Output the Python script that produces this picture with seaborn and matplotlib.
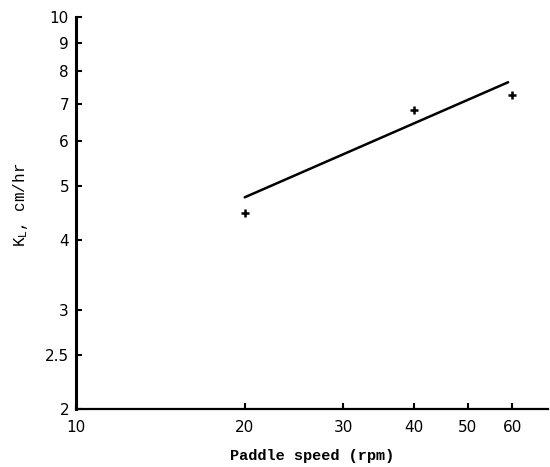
import matplotlib
matplotlib.use("Agg")
import matplotlib.pyplot as plt
import seaborn as sns
import pandas as pd
from matplotlib.ticker import FixedLocator, FixedFormatter, NullLocator

# data
paddle_speed = [20, 40, 60]
kl_measured = [4.48, 6.82, 7.25]
fit_speed = [20, 59]
fit_kl = [4.77, 7.65]
x_ticks = [10, 20, 30, 40, 50, 60]
x_tick_labels = ["10", "20", "30", "40", "50", "60"]
y_ticks = [2, 2.5, 3, 4, 5, 6, 7, 8, 9, 10]
y_tick_labels = ["2", "2.5", "3", "4", "5", "6", "7", "8", "9", "10"]

sns.set_style("ticks")
plt.rcParams["font.family"] = ["DejaVu Sans"]
plt.rcParams["text.color"] = "black"
plt.rcParams["axes.labelcolor"] = "black"

fig = plt.figure(figsize=(5.5, 4.67), dpi=100)
ax = fig.add_axes([76/550, 58/467, 472/550, 392/467])

pts = pd.DataFrame({"speed": paddle_speed, "kl": kl_measured})
fit = pd.DataFrame({"speed": fit_speed, "kl": fit_kl})

sns.lineplot(data=fit, x="speed", y="kl", ax=ax, color="black", linewidth=1.8)
sns.scatterplot(data=pts, x="speed", y="kl", ax=ax, marker="+", s=40,
                color="black", linewidth=1.8)

ax.set_xscale("log")
ax.set_yscale("log")
ax.set_xlim(10, 69.5)
ax.set_ylim(2, 10)

ax.xaxis.set_major_locator(FixedLocator(x_ticks))
ax.xaxis.set_major_formatter(FixedFormatter(x_tick_labels))
ax.xaxis.set_minor_locator(NullLocator())
ax.yaxis.set_major_locator(FixedLocator(y_ticks))
ax.yaxis.set_major_formatter(FixedFormatter(y_tick_labels))
ax.yaxis.set_minor_locator(NullLocator())

for side in ["top", "right"]:
    ax.spines[side].set_visible(False)
ax.spines["left"].set_linewidth(2.2)
ax.spines["bottom"].set_linewidth(1.6)
ax.spines["left"].set_color("black")
ax.spines["bottom"].set_color("black")

ax.tick_params(axis="both", direction="in", length=4, width=1.5, colors="black",
               labelcolor="black", labelsize=11, pad=8)
ax.tick_params(axis="y", pad=5)

ax.set_xlabel("Paddle speed (rpm)", family="Liberation Mono", fontsize=11,
              fontweight="bold", labelpad=10, color="black")
ax.set_ylabel(r"K$_\mathrm{L}$, cm/hr", family="Liberation Mono", fontsize=11.5,
              color="black")
ax.yaxis.set_label_coords(-0.098, 0.52)

fig.savefig("out.png", dpi=100)
